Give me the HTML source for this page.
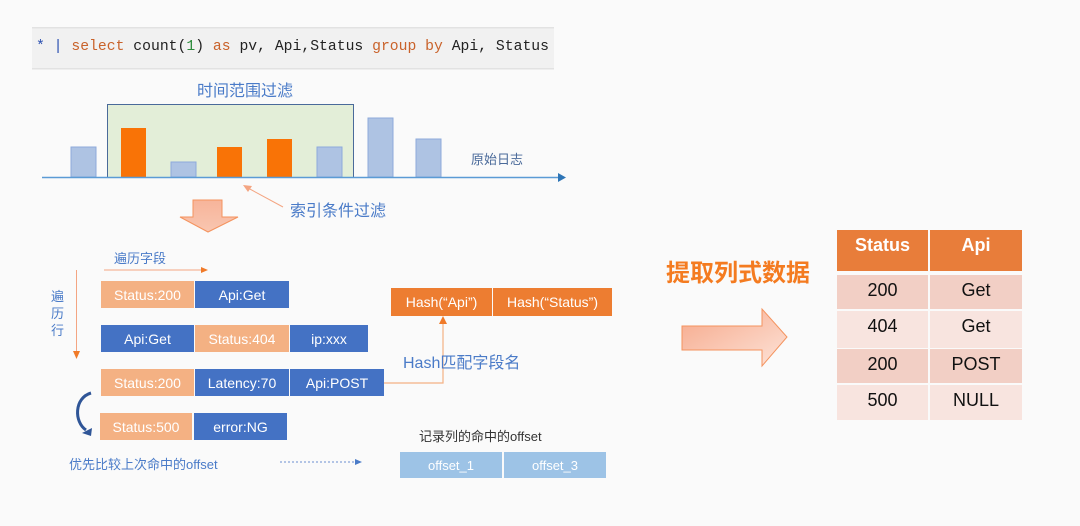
<!DOCTYPE html>
<html><head><meta charset="utf-8"><style>
html,body{margin:0;padding:0;background:#fafafa;}
svg{display:block;}
text{font-family:"Liberation Sans","Noto Sans CJK SC",sans-serif;}
.m{font-family:"Liberation Mono","DejaVu Sans Mono",monospace;}
</style></head><body>
<svg width="1080" height="526" viewBox="0 0 1080 526" xmlns="http://www.w3.org/2000/svg">
<defs>
<linearGradient id="g1" x1="0" y1="0" x2="1" y2="1"><stop offset="0" stop-color="#f6a88a"/><stop offset="1" stop-color="#fde3d8"/></linearGradient>
<linearGradient id="g2" x1="0" y1="0" x2="0" y2="1"><stop offset="0" stop-color="#f7b49a"/><stop offset="1" stop-color="#f9c6b0"/></linearGradient>
</defs>
<rect width="1080" height="526" fill="#fafafa"/>
<!-- SQL bar -->
<rect x="32" y="27" width="522" height="42" fill="#f1f1f1"/>
<rect x="32" y="27" width="522" height="1.5" fill="#e2e2e2"/>
<rect x="32" y="68" width="522" height="1.5" fill="#e2e2e2"/>
<text class="m" x="36" y="50" font-size="15" textLength="513" lengthAdjust="spacingAndGlyphs"><tspan fill="#2a4fb0">* |</tspan> <tspan fill="#c9622a">select</tspan> <tspan fill="#222">count(</tspan><tspan fill="#2a8a3a">1</tspan><tspan fill="#222">)</tspan> <tspan fill="#c9622a">as</tspan> <tspan fill="#222">pv, Api,Status</tspan> <tspan fill="#c9622a">group by</tspan> <tspan fill="#222">Api, Status</tspan></text>
<!-- time range -->
<text x="245" y="96" font-size="16" fill="#4a7bc8" text-anchor="middle">时间范围过滤</text>
<rect x="107.5" y="104.5" width="246" height="73" fill="#e3eed8" stroke="#4a6a9a" stroke-width="1"/>
<g fill="#aec3e3" stroke="#8eaadb">
<rect x="71" y="147" width="25" height="30"/><rect x="171" y="162" width="25" height="15"/>
<rect x="317" y="147" width="25" height="30"/><rect x="368" y="118" width="25" height="59"/><rect x="416" y="139" width="25" height="38"/>
</g>
<g fill="#f97306">
<rect x="121" y="128" width="25" height="49"/><rect x="217" y="147" width="25" height="30"/><rect x="267" y="139" width="25" height="38"/>
</g>
<line x1="42" y1="177.5" x2="560" y2="177.5" stroke="#5b9bd5" stroke-width="1.5"/>
<polygon points="558,173 566,177.5 558,182" fill="#2e75b6"/>
<text x="471" y="164" font-size="13" fill="#4a6a9a">原始日志</text>
<line x1="283" y1="207" x2="248" y2="188" stroke="#f4a582" stroke-width="1"/>
<polygon points="243,185 252,186 248,192" fill="#f4a582"/>
<text x="290" y="216" font-size="16" fill="#4a7bc8">索引条件过滤</text>
<polygon points="193,200 222,200 222,217 238,217 208,232 180,217 193,217" fill="url(#g2)" stroke="#f4935e" stroke-width="1"/>
<!-- traversal -->
<text x="114" y="263" font-size="13" fill="#4a7bc8">遍历字段</text>
<line x1="104" y1="270" x2="202" y2="270" stroke="#f4a582" stroke-width="1"/>
<polygon points="201,267 208,270 201,273" fill="#f07a28"/>
<text font-size="13" fill="#4a7bc8"><tspan x="51" y="301">遍</tspan><tspan x="51" y="318">历</tspan><tspan x="51" y="335">行</tspan></text>
<line x1="76.5" y1="270" x2="76.5" y2="352" stroke="#f4a582" stroke-width="1"/>
<polygon points="73,351 80,351 76.5,359" fill="#f07a28"/>
<g font-size="14" fill="#fff" text-anchor="middle">
<rect x="101" y="281" width="93" height="27" fill="#f4b183"/><text x="147.5" y="300">Status:200</text>
<rect x="195" y="281" width="94" height="27" fill="#4472c4"/><text x="242" y="300">Api:Get</text>
<rect x="101" y="325" width="93" height="27" fill="#4472c4"/><text x="147.5" y="344">Api:Get</text>
<rect x="195" y="325" width="94" height="27" fill="#f4b183"/><text x="242" y="344">Status:404</text>
<rect x="290" y="325" width="78" height="27" fill="#4472c4"/><text x="329" y="344">ip:xxx</text>
<rect x="101" y="369" width="93" height="27" fill="#f4b183"/><text x="147.5" y="388">Status:200</text>
<rect x="195" y="369" width="94" height="27" fill="#4472c4"/><text x="242" y="388">Latency:70</text>
<rect x="290" y="369" width="94" height="27" fill="#4472c4"/><text x="337" y="388">Api:POST</text>
<rect x="100" y="413" width="92" height="27" fill="#f4b183"/><text x="146" y="432">Status:500</text>
<rect x="194" y="413" width="93" height="27" fill="#4472c4"/><text x="240.5" y="432">error:NG</text>
</g>
<path d="M91,393 C74,398 74,422 86,430" fill="none" stroke="#2f5597" stroke-width="3"/>
<polygon points="82,433 92,428 91,436" fill="#2f5597"/>
<text x="69" y="469" font-size="13" fill="#4a7bc8">优先比较上次命中的offset</text>
<line x1="280" y1="462" x2="356" y2="462" stroke="#6a8fd0" stroke-width="1" stroke-dasharray="2,2"/>
<polygon points="355,459 362,462 355,465" fill="#4a7bc8"/>
<!-- hash -->
<rect x="391" y="288" width="101" height="28" fill="#ed7d31"/>
<rect x="493" y="288" width="119" height="28" fill="#ed7d31"/>
<text x="441.5" y="307" font-size="14" fill="#fff" text-anchor="middle">Hash(“Api”)</text>
<text x="552.5" y="307" font-size="14" fill="#fff" text-anchor="middle">Hash(“Status”)</text>
<polyline points="384,383 443,383 443,322" fill="none" stroke="#f4b183" stroke-width="1.2"/>
<polygon points="439,324 447,324 443,316" fill="#f07a28"/>
<text x="403" y="368" font-size="16" fill="#4a7bc8">Hash匹配字段名</text>
<text x="419" y="441" font-size="13" fill="#333">记录列的命中的offset</text>
<rect x="400" y="452" width="102" height="26" fill="#9dc3e6"/>
<rect x="504" y="452" width="102" height="26" fill="#9dc3e6"/>
<text x="451" y="470" font-size="13" fill="#fff" text-anchor="middle">offset_1</text>
<text x="555" y="470" font-size="13" fill="#fff" text-anchor="middle">offset_3</text>
<!-- right -->
<text x="738" y="281" font-size="24" font-weight="bold" fill="#f47b20" text-anchor="middle">提取列式数据</text>
<polygon points="682,326 762,326 762,309 787,337 762,366 762,350 682,350" fill="url(#g1)" stroke="#f4935e" stroke-width="1"/>
<!-- table -->
<rect x="837" y="230" width="91" height="41" fill="#e87d3a"/>
<rect x="930" y="230" width="92" height="41" fill="#e87d3a"/>
<g fill="#f2cfc5"><rect x="837" y="275" width="91" height="34"/><rect x="930" y="275" width="92" height="34"/>
<rect x="837" y="349" width="91" height="34"/><rect x="930" y="349" width="92" height="34"/></g>
<g fill="#f8e4df"><rect x="837" y="311" width="91" height="37"/><rect x="930" y="311" width="92" height="37"/>
<rect x="837" y="385" width="91" height="35"/><rect x="930" y="385" width="92" height="35"/></g>
<g font-size="18" text-anchor="middle">
<text x="882.5" y="251" fill="#fff" font-weight="bold">Status</text><text x="976" y="251" fill="#fff" font-weight="bold">Api</text>
<text x="882.5" y="296" fill="#111">200</text><text x="976" y="296" fill="#111">Get</text>
<text x="882.5" y="332" fill="#111">404</text><text x="976" y="332" fill="#111">Get</text>
<text x="882.5" y="370" fill="#111">200</text><text x="976" y="370" fill="#111">POST</text>
<text x="882.5" y="406" fill="#111">500</text><text x="976" y="406" fill="#111">NULL</text>
</g>
</svg>
</body></html>
